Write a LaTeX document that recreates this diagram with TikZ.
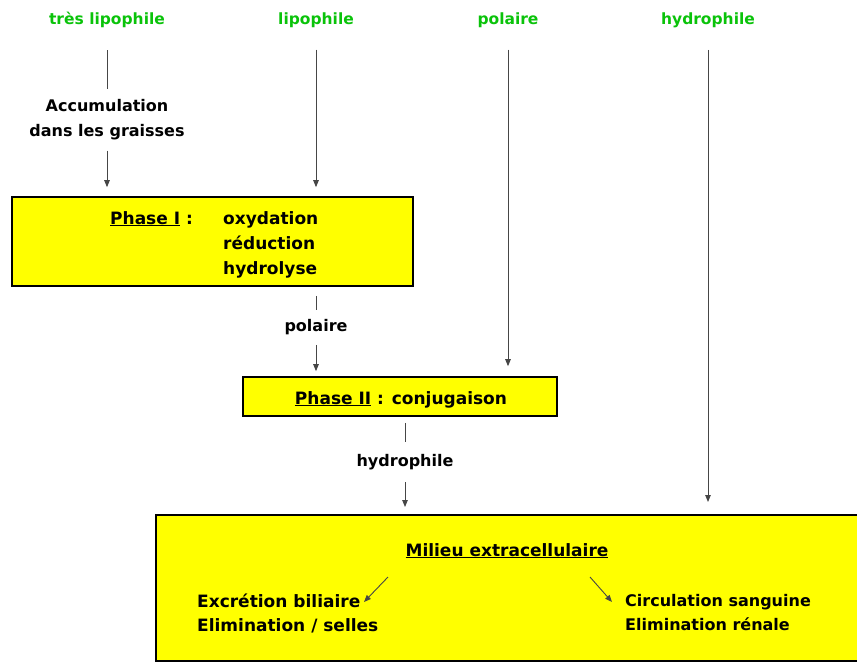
\documentclass[tikz,border=0pt]{standalone}
\usepackage{fontspec}
\setmainfont{DejaVu Sans}
\usetikzlibrary{arrows.meta}
\definecolor{grn}{RGB}{10,195,10}
\definecolor{yel}{RGB}{255,255,0}
\definecolor{lin}{RGB}{70,70,70}
\tikzset{
  txt/.style={font=\bfseries\fontsize{17}{24}\selectfont, inner sep=0pt, align=center},
  side/.style={txt, font=\bfseries\fontsize{16}{25}\selectfont},
  lbl/.style={txt, text=grn, font=\bfseries\fontsize{15.5}{19}\selectfont},
  box/.style={draw=black, line width=1.6pt, fill=yel, inner sep=0pt},
  arr/.style={draw=lin, line width=0.9pt, -{Triangle[length=7pt,width=5.5pt]}},
  ln/.style={draw=lin, line width=0.9pt}
}
\begin{document}
\begin{tikzpicture}[x=1pt,y=-1pt]
\useasboundingbox[fill=white] (0,0) rectangle (857,662);
% top labels
\node[lbl] (l1) at (107,20) {très lipophile};
\node[lbl] (l2) at (316,20) {lipophile};
\node[lbl] (l3) at (508,20) {polaire};
\node[lbl] (l4) at (708,20) {hydrophile};
% boxes
\node[box, minimum width=401pt, minimum height=89pt] (p1) at (212.5,241.5) {};
\node[box, minimum width=314pt, minimum height=39pt] (p2) at (400,396.5) {};
\node[box, minimum width=702pt, minimum height=146pt, anchor=north west] (me) at (155,514) {};
% Phase I text
\node[txt, anchor=base west] (p1a) at (110,224) {\underline{Phase I} :};
\node[txt, anchor=base west] (p1b) at (223,224) {oxydation};
\node[txt, anchor=base west] (p1c) at (223,249) {réduction};
\node[txt, anchor=base west] (p1d) at (223,274) {hydrolyse};
% Phase II text
\node[txt, anchor=base] (p2t) at (401,404) {\underline{Phase II} : conjugaison};
% milieu text
\node[txt, anchor=base] (met) at (507,556) {\underline{Milieu extracellulaire}};
\node[txt, anchor=west, align=left] (exc) at (197,613) {Excrétion biliaire\\Elimination / selles};
\node[txt, anchor=west, align=left, font=\bfseries\fontsize{16}{24}\selectfont] (cir) at (625,613) {Circulation sanguine\\Elimination rénale};
% side labels
\node[side] (acc) at (107,120) {Accumulation\\dans les graisses};
\node[side] (pol) at (316,327) {polaire};
\node[side] (hyd) at (405,462) {hydrophile};
% connectors
\draw[ln, shorten <=22pt, shorten >=10pt] (l1) -- (acc);
\draw[arr, shorten <=10pt, shorten >=9pt] (acc) -- (acc |- p1.north);
\draw[arr, shorten <=22pt, shorten >=9pt] (l2) -- (l2 |- p1.north);
\draw[ln, shorten <=9pt, shorten >=9pt] (p1.south -| pol) -- (pol);
\draw[arr, shorten <=10pt, shorten >=5pt] (pol) -- (pol |- p2.north);
\draw[arr, shorten <=22pt, shorten >=10pt] (l3) -- (l3 |- p2.north);
\draw[ln, shorten <=6pt, shorten >=12pt] (p2.south -| hyd) -- (hyd);
\draw[arr, shorten <=12pt, shorten >=7pt] (hyd) -- (hyd |- me.north);
\draw[arr, shorten <=22pt, shorten >=12pt] (l4) -- (l4 |- me.north);
\coordinate (a1s) at (388,577);
\coordinate (a1e) at (364,602);
\coordinate (a2s) at (590,577);
\coordinate (a2e) at (612,602);
\draw[arr] (a1s) -- (a1e);
\draw[arr] (a2s) -- (a2e);
\end{tikzpicture}
\end{document}
